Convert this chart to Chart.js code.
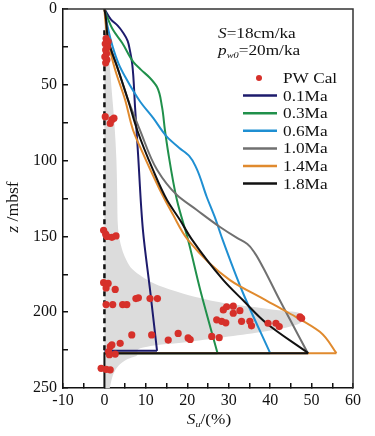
<!DOCTYPE html>
<html>
<head>
<meta charset="utf-8">
<script src="https://cdn.jsdelivr.net/npm/chart.js@4.4.1/dist/chart.umd.min.js"></script>
<style>
  html, body { margin: 0; padding: 0; background: #fff; }
  #wrap { width: 375px; height: 436px; }
</style>
</head>
<body>
<div id="wrap"><canvas id="profile" width="375" height="436"></canvas></div>
<script>
// axis ranges / tick labels
var xMin = -10, xMax = 60, xStep = 5, xLabelEvery = 10;
var zMin = 0, zMax = 250, zStep = 25, zLabelEvery = 50;

// measured pore water values (PW Cal)
var pwX = [0.4, 0.9, 0.2, 0.7, 0.3, 0.5, 0.1, 0.6, 0.3,
           0.2, 1.8, 2.3, 1.4,
           -0.2, 0.3, 0.6, 1.8, 2.8,
           -0.2, 0.9, 0.4, 2.6,
           0.4, 2.0, 4.4, 5.4,
           7.6, 8.2, 11.0, 12.8,
           6.6, 11.4, 15.4, 17.8, 20.2, 20.7,
           1.4, 1.8, 3.8, 1.0, 2.6, 1.2,
           -0.8, 0.4, 1.4,
           28.7, 29.5, 31.1, 31.1, 32.7, 27.1, 28.3, 29.3, 33.1, 35.1, 35.5, 39.5, 41.4, 42.2, 47.2, 47.6, 25.9, 27.7];
var pwZ = [19.5, 21.5, 23, 25, 27, 29.5, 31.5, 33.5, 35.5,
           71, 73, 72, 75.5,
           146, 148.5, 150, 150.6, 149.7,
           180.5, 181, 184, 185,
           195, 195, 195, 195,
           191, 190.5, 191, 191,
           215, 215, 218.4, 214, 217, 218,
           222.7, 221.6, 220.5, 226, 227.6, 228,
           237, 237.7, 238,
           198.5, 196.4, 196, 200.7, 199, 205, 206, 207, 206, 206, 209, 207.3, 207.3, 209.5, 203, 204, 216, 216.8];

// model profiles (last points = return line along the base)
var ma01X = [0, 1.6, 3.2, 4.6, 5.6, 6.2, 6.7, 7.4, 8.1, 9.3, 11.0, 12.7, 0];
var ma01Z = [0, 7, 11, 16, 21, 28, 36, 65, 95, 146, 185, 225.5, 225.5];

var ma03X = [0, 0.5, 2.1, 4.3, 7.0, 8.8, 11.0, 12.7, 13.9, 14.6, 15.3, 17.5, 20.2, 23.1, 27.3, 0];
var ma03Z = [0, 4, 13.9, 22.4, 35, 40, 45.5, 51.5, 64.6, 79.8, 93, 126, 152.4, 185, 227, 227];

var ma06X = [0, 0.8, 2.0, 3.4, 5.0, 8.6, 11.8, 15.0, 18.0, 20.5, 22.2, 24.7, 26.6, 28.5, 33.4, 40.0, 0];
var ma06Z = [0, 12, 25, 36, 44.7, 61, 72, 84, 91.5, 97, 105, 124, 137, 152, 187, 227, 227];

var ma10X = [0, 0.3, 0.9, 3.3, 5.7, 8.6, 12.7, 17.5, 22.3, 27.9, 32.0, 34.5, 36.3, 38.2, 42.3, 49.1, 0];
var ma10Z = [0, 5, 20, 40, 60, 80, 106, 122.7, 132.6, 143.8, 151, 155, 161, 170, 192, 227, 227];

var ma14X = [0, 0.3, 0.8, 1.6, 2.6, 5.0, 6.9, 8.6, 13.4, 16.6, 20.2, 30.3, 38.9, 44.0, 52.0, 56.0, 0];
var ma14Z = [0, 10, 20, 30, 40.2, 60, 79.8, 91, 119.4, 135.9, 152.4, 178.8, 192, 199.7, 212.9, 227, 227];

var ma18X = [0, 0.3, 0.9, 3.3, 5.7, 7.9, 11.7, 15.1, 18.2, 21.1, 28.7, 33.4, 39.1, 49.2, 0, 0];
var ma18Z = [0, 5, 20.4, 40, 60, 79.8, 106, 126, 139, 152, 178.8, 192, 207.3, 227, 227, 250];

// grey envelope, right edge (left edge is the x = 0 line)
var envX = [0, 0.6, 1.2, 1.8, 2.4, 2.9, 3.1, 3.3, 4.2, 5.2, 6.9, 12, 17, 22, 30, 40, 47, 47.6, 20.6, 12, 8, 8, 5.5, 3.5, 2.3, 1.6, 1.3];
var envZ = [10, 20, 35, 55, 75, 100, 125, 145, 158, 165, 172, 181, 186, 190, 194.5, 198, 200.5, 206, 219.5, 222, 225, 228, 231, 235, 240, 246, 250];

// dashed zero line
var zeroX = [0, 0];
var zeroZ = [14, 227];

var legendLabels = ['PW Cal', '0.1Ma', '0.3Ma', '0.6Ma', '1.0Ma', '1.4Ma', '1.8Ma'];
var colors = {
  'PW Cal': '#d6302a',
  '0.1Ma': '#1d1b6c',
  '0.3Ma': '#20904b',
  '0.6Ma': '#1f8fd2',
  '1.0Ma': '#707070',
  '1.4Ma': '#e08a2e',
  '1.8Ma': '#111111'
};

var serif = "'Liberation Serif', 'DejaVu Serif', serif";

function pts(xs, zs) {
  return xs.map(function(x, i) { return {x: x, y: zs[i]}; });
}

// a profile is smooth down to its deepest/widest point, then a straight return to x = 0
function curve(label, xs, zs) {
  var tip = xs.indexOf(Math.max.apply(null, xs));
  return [
    {
      label: label,
      data: pts(xs.slice(0, tip + 1), zs.slice(0, tip + 1)),
      showLine: true,
      borderColor: colors[label],
      borderWidth: 2,
      pointRadius: 0,
      fill: false,
      cubicInterpolationMode: 'monotone'
    },
    {
      label: label + ' base',
      data: pts(xs.slice(tip), zs.slice(tip)),
      showLine: true,
      borderColor: colors[label],
      borderWidth: 2,
      pointRadius: 0,
      fill: false,
      tension: 0
    }
  ];
}

// draws a run of text parts, slightly stretched sideways like the original
function textRun(ctx, parts, x, y, sx, measureOnly) {
  var w = 0;
  ctx.save();
  ctx.translate(x, y);
  ctx.scale(sx, 1);
  parts.forEach(function(p) {
    ctx.font = p.font;
    if (!measureOnly) ctx.fillText(p.t, w, p.dy || 0);
    w += ctx.measureText(p.t).width;
  });
  ctx.restore();
  return w * sx;
}

var insideText = {
  id: 'insideText',
  afterDraw: function(chart) {
    var ctx = chart.ctx, a = chart.chartArea;
    var sx = 1.15;
    var up = 'normal 15px ' + serif, it = 'italic 15px ' + serif, sub = 'italic 9px ' + serif;

    // top and right frame
    ctx.save();
    ctx.strokeStyle = '#333';
    ctx.lineWidth = 1.5;
    ctx.beginPath();
    ctx.moveTo(a.left, a.top);
    ctx.lineTo(a.right, a.top);
    ctx.lineTo(a.right, a.bottom);
    ctx.stroke();
    ctx.restore();

    ctx.save();
    ctx.fillStyle = '#111';
    ctx.textBaseline = 'alphabetic';
    ctx.textAlign = 'left';

    // parameters
    var tx = a.right - 135;
    textRun(ctx, [{t: 'S', font: it}, {t: '=18cm/ka', font: up}], tx, a.top + 29, sx);
    textRun(ctx, [{t: 'p', font: it}, {t: 'w0', font: sub, dy: 3}, {t: '=20m/ka', font: up}], tx, a.top + 46, sx);

    // legend
    var rowY = a.top + 69, rowH = 17.6;
    var x1 = a.right - 110, x2 = a.right - 76, xt = a.right - 70;
    legendLabels.forEach(function(lab, i) {
      var y = rowY + i * rowH;
      if (lab === 'PW Cal') {
        ctx.fillStyle = colors[lab];
        ctx.beginPath();
        ctx.arc((x1 + x2) / 2 - 1, y, 3, 0, Math.PI * 2);
        ctx.fill();
      } else {
        ctx.strokeStyle = colors[lab];
        ctx.lineWidth = 2.5;
        ctx.beginPath();
        ctx.moveTo(x1, y);
        ctx.lineTo(x2, y);
        ctx.stroke();
      }
      ctx.fillStyle = '#111';
      textRun(ctx, [{t: lab, font: up}], xt, y + 5, sx);
    });

    // x title: S_u/(%)
    var xParts = [{t: 'S', font: it}, {t: 'u', font: sub, dy: 3}, {t: '/(%)', font: up}];
    var w = textRun(ctx, xParts, 0, 0, sx, true);
    textRun(ctx, xParts, (a.left + a.right) / 2 + 1 - w / 2, 424, sx);

    // y title: z /mbsf
    var yParts = [{t: 'z', font: 'italic 16px ' + serif}, {t: ' /mbsf', font: 'normal 16px ' + serif}];
    ctx.save();
    ctx.translate(18, 207);
    ctx.rotate(-Math.PI / 2);
    var wy = textRun(ctx, yParts, 0, 0, 1.1, true);
    textRun(ctx, yParts, -wy / 2, 0, 1.1);
    ctx.restore();

    ctx.restore();
  }
};

var tickFont = {family: serif, size: 16};

var datasets = [{
  label: 'PW Cal',
  data: pts(pwX, pwZ),
  showLine: false,
  pointRadius: 3.6,
  pointBorderWidth: 0,
  backgroundColor: colors['PW Cal'],
  borderColor: colors['PW Cal']
}].concat(
  curve('1.8Ma', ma18X, ma18Z),
  curve('1.4Ma', ma14X, ma14Z),
  curve('1.0Ma', ma10X, ma10Z),
  curve('0.6Ma', ma06X, ma06Z),
  curve('0.3Ma', ma03X, ma03Z),
  curve('0.1Ma', ma01X, ma01Z),
  [{
    label: 'zero',
    data: pts(zeroX, zeroZ),
    showLine: true,
    borderColor: '#111',
    borderWidth: 2.5,
    borderDash: [5, 4],
    pointRadius: 0,
    fill: false
  },
  {
    label: 'envelope',
    data: pts(envX, envZ),
    showLine: true,
    borderColor: 'rgba(0,0,0,0)',
    borderWidth: 0,
    backgroundColor: '#dcdcdc',
    pointRadius: 0,
    fill: 'origin',
    cubicInterpolationMode: 'monotone'
  }]
);

var chart = new Chart('profile', {
  type: 'scatter',
  data: { datasets: datasets },
  options: {
    responsive: false,
    animation: false,
    devicePixelRatio: 1,
    indexAxis: 'y',
    layout: { padding: { top: 9, right: 22, bottom: 0, left: 0 } },
    plugins: {
      legend: { display: false },
      tooltip: { enabled: false }
    },
    scales: {
      x: {
        type: 'linear',
        position: 'bottom',
        min: xMin,
        max: xMax,
        afterFit: function(s) { s.height = 48; s.paddingLeft = 0; s.paddingRight = 0; },
        ticks: {
          stepSize: xStep,
          autoSkip: false,
          maxRotation: 0,
          padding: 8,
          color: '#111',
          font: tickFont,
          callback: function(v) { return v % xLabelEvery === 0 ? String(v) : ''; }
        },
        grid: { drawOnChartArea: false, drawTicks: true, tickLength: -5, color: '#111', lineWidth: 1.5 },
        border: { color: '#111', width: 1.5 }
      },
      y: {
        type: 'linear',
        position: 'left',
        reverse: true,
        min: zMin,
        max: zMax,
        afterFit: function(s) { s.width = 63; s.paddingTop = 0; s.paddingBottom = 0; },
        ticks: {
          stepSize: zStep,
          autoSkip: false,
          padding: 11,
          color: '#111',
          font: tickFont,
          callback: function(v) { return v % zLabelEvery === 0 ? String(v) : ''; }
        },
        grid: { drawOnChartArea: false, drawTicks: true, tickLength: -5, color: '#111', lineWidth: 1.5 },
        border: { color: '#111', width: 1.5 }
      }
    }
  },
  plugins: [insideText]
});
</script>
</body>
</html>
